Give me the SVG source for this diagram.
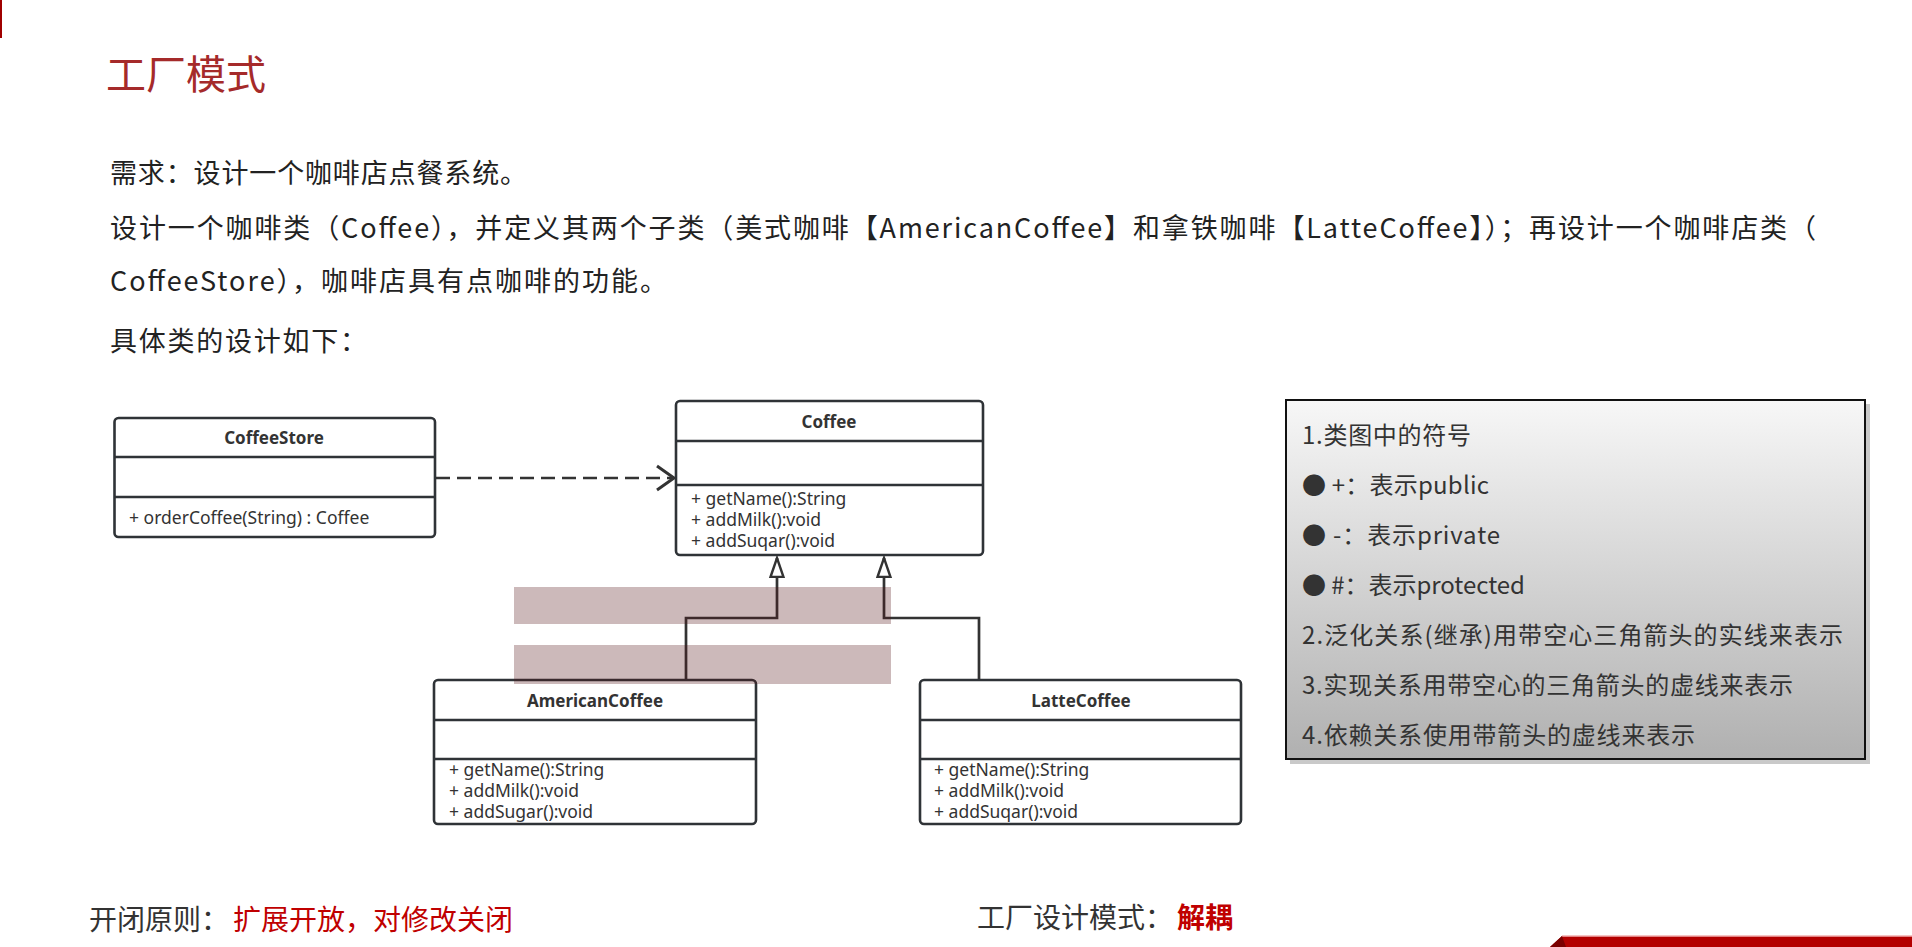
<svg xmlns="http://www.w3.org/2000/svg" width="1912" height="947" viewBox="0 0 1912 947">
<style>
.cjk{font-family:"Noto Sans CJK SC","Noto Sans",sans-serif;}
.body{font-size:27px;fill:#222;}
.leg{font-size:24px;fill:#333;}
.box{fill:#fff;stroke:#2f3337;stroke-width:2.6;}
.div{stroke:#2f3337;stroke-width:2.6;}
.ttl{font-family:"Noto Sans","Liberation Sans",sans-serif;font-size:17px;font-weight:bold;fill:#333;text-anchor:middle;}
.mth{font-family:"Noto Sans","Liberation Sans",sans-serif;font-size:17.5px;fill:#333;}
.conn{fill:none;stroke:#333;stroke-width:2.7;}
</style>
<defs>
<marker id="openArrow" markerUnits="userSpaceOnUse" markerWidth="22" markerHeight="30" viewBox="0 0 22 30" refX="19" refY="15" orient="auto">
<path d="M2,3 L19,15 L2,27" fill="none" stroke="#333" stroke-width="3"/>
</marker>
<marker id="hollowTri" markerUnits="userSpaceOnUse" markerWidth="22" markerHeight="18" viewBox="0 0 22 18" refX="20" refY="9" orient="auto">
<path d="M1,2.5 L20,9 L1,15.5 Z" fill="#fff" stroke="#333" stroke-width="2.4"/>
</marker>
<linearGradient id="legGrad" x1="0" y1="0" x2="0" y2="1">
<stop offset="0" stop-color="#f7f7f7"/>
<stop offset="1" stop-color="#b0b0b0"/>
</linearGradient>
</defs>
<rect width="1912" height="947" fill="#fff"/>
<rect x="0" y="0" width="2" height="38" fill="#a00000"/>
<text class="cjk" x="106" y="89" font-size="40" fill="#a52a2a">工厂模式</text>
<g id="intro" class="cjk body">
<text x="110" y="183" textLength="417" lengthAdjust="spacing">需求：设计一个咖啡店点餐系统。</text>
<text x="110" y="238" textLength="1706" lengthAdjust="spacing">设计一个咖啡类（Coffee），并定义其两个子类（美式咖啡【AmericanCoffee】和拿铁咖啡【LatteCoffee】）；再设计一个咖啡店类（</text>
<text x="110" y="291" textLength="557" lengthAdjust="spacing">CoffeeStore），咖啡店具有点咖啡的功能。</text>
<text x="110" y="351" textLength="257" lengthAdjust="spacing">具体类的设计如下：</text>
</g>
<g id="connectors">
<path class="conn" d="M436,478 H674" stroke-width="3" stroke-dasharray="14 7" marker-end="url(#openArrow)"/>
<path class="conn" d="M686,680 V618 H777 V558" marker-end="url(#hollowTri)"/>
<path class="conn" d="M979,680 V618 H884 V558" marker-end="url(#hollowTri)"/>
</g>
<g id="CoffeeStore">
<rect class="box" x="114.5" y="418" width="320.5" height="119" rx="4"/>
<line class="div" x1="114.5" y1="457" x2="435" y2="457"/>
<line class="div" x1="114.5" y1="497" x2="435" y2="497"/>
<text class="ttl" x="274" y="444">CoffeeStore</text>
<text class="mth" x="129" y="524">+ orderCoffee(String) : Coffee</text>
</g>
<g id="Coffee">
<rect class="box" x="676" y="401" width="307" height="154" rx="4"/>
<line class="div" x1="676" y1="441" x2="983" y2="441"/>
<line class="div" x1="676" y1="485" x2="983" y2="485"/>
<text class="ttl" x="829" y="428">Coffee</text>
<text class="mth" x="691" y="505">+ getName():String</text>
<text class="mth" x="691" y="526">+ addMilk():void</text>
<text class="mth" x="691" y="547">+ addSuqar():void</text>
</g>
<g id="AmericanCoffee">
<rect class="box" x="434" y="680" width="322" height="144" rx="4"/>
<line class="div" x1="434" y1="720" x2="756" y2="720"/>
<line class="div" x1="434" y1="759" x2="756" y2="759"/>
<text class="ttl" x="595" y="707">AmericanCoffee</text>
<text class="mth" x="449" y="776">+ getName():String</text>
<text class="mth" x="449" y="797">+ addMilk():void</text>
<text class="mth" x="449" y="818">+ addSugar():void</text>
</g>
<g id="LatteCoffee">
<rect class="box" x="920" y="680" width="321" height="144" rx="4"/>
<line class="div" x1="920" y1="720" x2="1241" y2="720"/>
<line class="div" x1="920" y1="759" x2="1241" y2="759"/>
<text class="ttl" x="1081" y="707">LatteCoffee</text>
<text class="mth" x="934" y="776">+ getName():String</text>
<text class="mth" x="934" y="797">+ addMilk():void</text>
<text class="mth" x="934" y="818">+ addSuqar():void</text>
</g>
<g id="highlights">
<rect x="514" y="587" width="377" height="37" fill="#551619" fill-opacity="0.3"/>
<rect x="514" y="645" width="377" height="39" fill="#551619" fill-opacity="0.3"/>
</g>
<g id="legend">
<rect x="1290" y="404" width="580" height="360" fill="#888" fill-opacity="0.45"/>
<rect x="1286" y="400" width="579" height="359" fill="url(#legGrad)" stroke="#111" stroke-width="2"/>
<g class="cjk leg">
<text x="1302" y="444" textLength="169" lengthAdjust="spacing">1.类图中的符号</text>
<text x="1302" y="494" textLength="187" lengthAdjust="spacing">● +：表示public</text>
<text x="1302" y="544" textLength="198" lengthAdjust="spacing">● -：表示private</text>
<text x="1302" y="594" textLength="223" lengthAdjust="spacing">● #：表示protected</text>
<text x="1302" y="644" textLength="541" lengthAdjust="spacing">2.泛化关系(继承)用带空心三角箭头的实线来表示</text>
<text x="1302" y="694" textLength="491" lengthAdjust="spacing">3.实现关系用带空心的三角箭头的虚线来表示</text>
<text x="1302" y="744" textLength="393" lengthAdjust="spacing">4.依赖关系使用带箭头的虚线来表示</text>
</g>
</g>
<g id="footer" class="cjk" font-size="28">
<text x="89" y="930" fill="#333">开闭原则：<tspan x="233" fill="#c00000">扩展开放，对修改关闭</tspan></text>
<text x="977" y="928" fill="#333">工厂设计模式：<tspan x="1177" fill="#c00000" font-weight="bold">解耦</tspan></text>
</g>
<path d="M1550,947 L1562,936 H1912 V947 Z" fill="#b40000"/>
<path d="M1562,936 H1912" stroke="#f3b0b0" stroke-width="1.5"/>
<path d="M1550,947 L1562,936 L1566,947 Z" fill="#7a0000"/>
</svg>
